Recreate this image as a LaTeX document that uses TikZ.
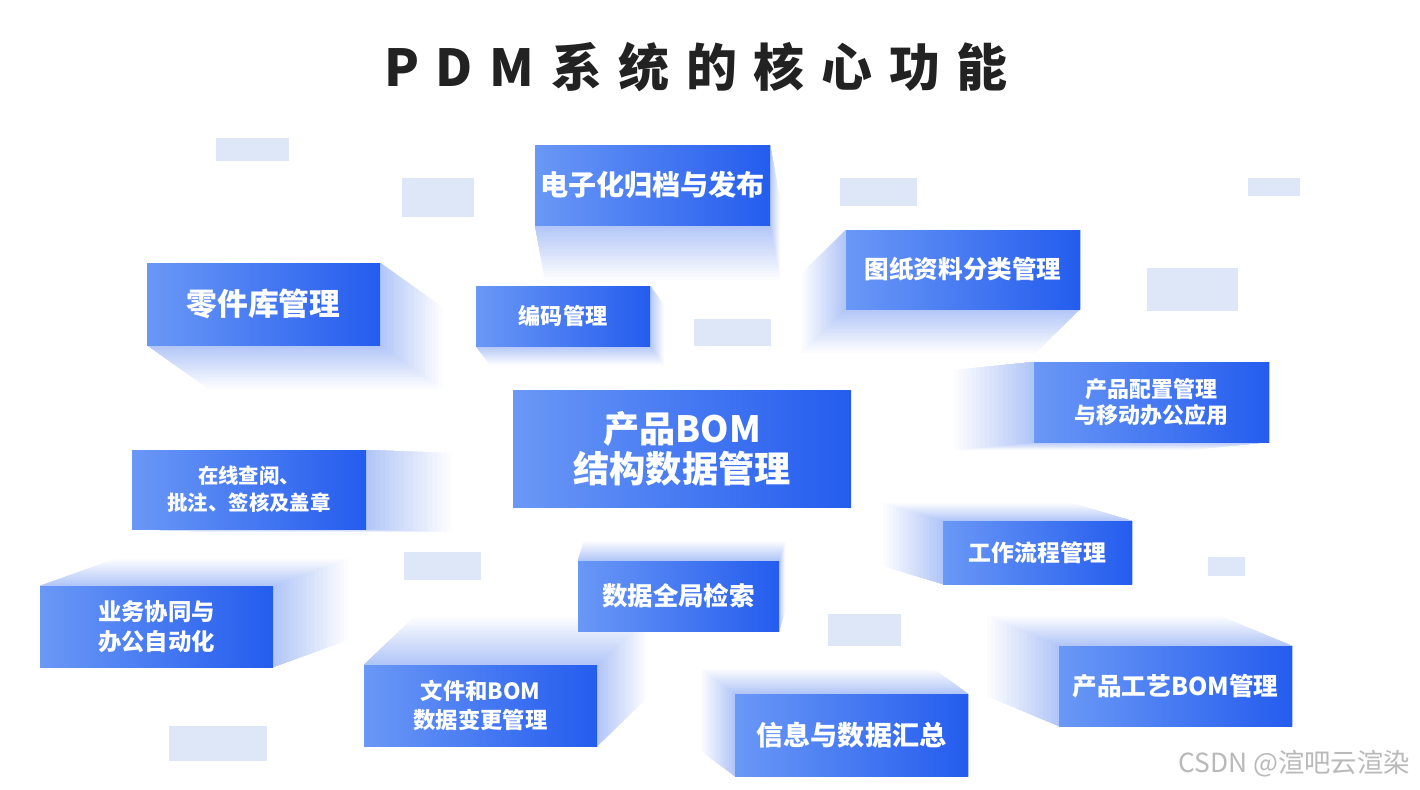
\documentclass[tikz,border=0pt]{standalone}
\usepackage{fontspec}
\setmainfont{Noto Sans CJK SC}
\definecolor{boxL}{RGB}{106,152,246}
\definecolor{boxR}{RGB}{36,92,238}
\definecolor{shd}{RGB}{178,198,247}
\definecolor{pale}{RGB}{222,231,248}
\definecolor{ttl}{RGB}{34,34,34}
\definecolor{wmark}{RGB}{185,185,185}
\tikzset{
  panel/.style={inner sep=0pt, left color=boxL, right color=boxR, text=white, align=center},
  ghost/.style={fill=pale, draw=none},
}
\newcommand\tg{\hspace{9.5pt}}
% hull of the box (\xa,\ya)-(\xb,\yb) and its copy moved by (#2,#3), filled with #1
\newcommand\exhull[3]{%
  \ifdim#2pt<0pt
    \ifdim#3pt<0pt
      \fill[#1] (\xb,\yb)--(\xa,\yb)--({\xa+#2},{\yb+#3})--({\xa+#2},{\ya+#3})--({\xb+#2},{\ya+#3})--(\xb,\ya)--cycle;
    \else
      \fill[#1] (\xb,\ya)--(\xb,\yb)--({\xb+#2},{\yb+#3})--({\xa+#2},{\yb+#3})--({\xa+#2},{\ya+#3})--(\xa,\ya)--cycle;
    \fi
  \else
    \ifdim#3pt<0pt
      \fill[#1] (\xa,\yb)--(\xa,\ya)--({\xa+#2},{\ya+#3})--({\xb+#2},{\ya+#3})--({\xb+#2},{\yb+#3})--(\xb,\yb)--cycle;
    \else
      \fill[#1] (\xa,\ya)--(\xb,\ya)--({\xb+#2},{\ya+#3})--({\xb+#2},{\yb+#3})--({\xa+#2},{\yb+#3})--(\xa,\yb)--cycle;
    \fi
  \fi}
\begin{document}
\begin{tikzpicture}[x=0.02cm,y=-0.02cm]
\useasboundingbox (0,0) rectangle (1420,789);
\fill[white] (0,0) rectangle (1420,789);
\def\boxlist{%
535/145/770/225/10/55/16/20/{电子化归档与发布},
147/263/380/345/62/44/17.5/21/{零件库管理},
476/286/650/346/14/19/12.6/15/{编码管理},
846/230/1080/309/-45/44/14/17/{图纸资料分类管理},
1034/362/1269/442/-80/8/12.5/14.5/{产品配置管理\\与移动办公应用},
132/450/366/529/85/3/11.6/15.3/{在线查阅、\\批注、签核及盖章},
943/521/1132/584/-60/-18/13/16/{工作流程管理},
40/586/273/667/75/-27/13.3/17/{业务协同与\\办公自动化},
578/561/779/631/6/-20/14.5/17/{数据全局检索},
364/665/597/746/50/-48/12.7/16.4/{文件和BOM\\数据变更管理},
735/694/968/776/-34/-25/15.4/18/{信息与数据汇总},
1059/646/1292/726/-72/-30/14/17/{产品工艺BOM管理}}
% soft extrusions (drawn far to near)
\foreach \xa/\ya/\xb/\yb/\dx/\dy/\fs/\bs/\txt in \boxlist {
  \foreach \k in {18,17,...,1} {
    \pgfmathsetmacro\ddx{\dx*\k/18}
    \pgfmathsetmacro\ddy{\dy*\k/18}
    \pgfmathtruncatemacro\pct{100*(1-(\k-1)/18)}
    \exhull{shd!\pct!white}{\ddx}{\ddy}
  }
}
% pale decorative rectangles
\foreach \xa/\ya/\xb/\yb in {216/138/289/161, 402/178/474/217, 840/178/917/206, 1248/178/1300/196, 1147/268/1238/311, 694/319/771/346, 404/552/481/580, 828/614/901/646, 1208/557/1245/576, 169/726/267/761}
  \fill[ghost] (\xa,\ya) rectangle (\xb,\yb);
% boxes
\foreach \xa/\ya/\xb/\yb/\dx/\dy/\fs/\bs/\txt [count=\i] in \boxlist {
  \node[panel, minimum width={(\xb-\xa)*0.02cm}, minimum height={(\yb-\ya)*0.02cm},
        font=\bfseries\fontsize{\fs}{\bs}\selectfont] (p\i) at ({(\xa+\xb)/2},{(\ya+\yb)/2}) {\txt};
}
\node[panel, minimum width={338*0.02cm}, minimum height={117*0.02cm},
      font=\bfseries\fontsize{20.6}{22.7}\selectfont] (core) at (682,448.5) {产品BOM\\结构数据管理};
% title
\node[text=ttl, font=\bfseries\fontsize{29}{32}\selectfont] (title) at (696,67)
  {P\tg D\tg M\tg 系\tg 统\tg 的\tg 核\tg 心\tg 功\tg 能};
% watermark
\node[text=wmark, anchor=east, font=\fontsize{15}{18}\selectfont] (wm) at (1416,764) {CSDN @渲吧云渲染};
\end{tikzpicture}
\end{document}
